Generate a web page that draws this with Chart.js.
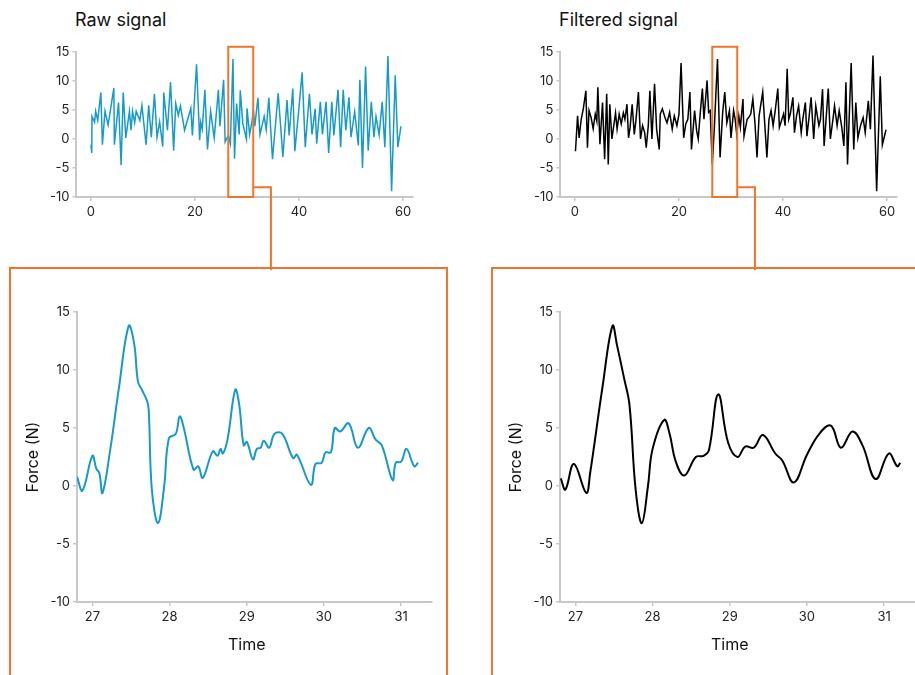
<!DOCTYPE html>
<html>
<head>
<meta charset="utf-8">
<script src="https://cdn.jsdelivr.net/npm/chart.js@4.4.1/dist/chart.umd.min.js"></script>
<style>
  body { margin: 0; background: #fff; font-family: Inter, "Noto Sans", sans-serif; }
  #wrap { position: relative; width: 915px; height: 675px; overflow: hidden; }
  .box { position: absolute; border: 2px solid #f07528; box-sizing: border-box; }
  .ttl { position: absolute; font-size: 18px; line-height: 22px; color: #111; }
  canvas { position: absolute; }
</style>
</head>
<body>
<div id="wrap">
  <div class="box" style="left:9px;top:267px;width:439px;height:450px"></div>
  <div class="box" style="left:491px;top:267px;width:500px;height:450px"></div>
  <div class="ttl" style="left:75px;top:9px">Raw signal</div>
  <div class="ttl" style="left:559px;top:9px">Filtered signal</div>
  <canvas id="rawTop" width="457" height="270" style="left:0;top:0"></canvas>
  <canvas id="filtTop" width="431" height="270" style="left:484px;top:0"></canvas>
  <canvas id="rawZoom" width="457" height="405" style="left:0;top:270px"></canvas>
  <canvas id="filtZoom" width="431" height="405" style="left:484px;top:270px"></canvas>
</div>
<script>
// overview, raw
const rawTopT = [0.0, 0.15, 0.2, 0.7, 0.9, 1.3, 1.9, 2.2, 2.7, 3.3,
  4.4, 4.5, 5.3, 5.8, 6.2, 6.7, 7.4, 7.7, 8.0, 8.4,
  8.7, 9.4, 9.8, 10.6, 11.1, 11.6, 12.2, 12.7, 13.2, 13.8,
  14.0, 14.7, 15.3, 15.9, 16.3, 16.8, 17.2, 18.0, 19.2, 19.5,
  20.3, 20.9, 21.1, 21.4, 21.9, 22.4, 23.0, 23.7, 24.5, 24.8,
  25.5, 25.8, 26.4, 26.8, 27.3, 27.6, 28.0, 28.5, 28.7, 29.2,
  29.9, 30.0, 30.5, 31.0, 31.2, 31.5, 32.1, 32.5, 33.3, 33.7,
  34.2, 34.9, 36.0, 36.9, 37.7, 38.1, 38.8, 39.2, 40.0, 40.6,
  41.2, 42.0, 42.5, 43.1, 43.4, 44.1, 44.5, 45.2, 45.7, 46.3,
  46.7, 47.5, 48.0, 48.5, 49.0, 49.6, 50.0, 50.7, 51.4, 51.7,
  52.2, 52.8, 53.3, 53.9, 54.4, 54.8, 55.4, 56.0, 56.5, 57.1,
  57.8, 58.5, 59.0, 59.6];
const rawTopF = [-1.0, -2.4, 3.9, 2.9, 4.8, 3.2, 8.0, -1.0, 4.8, 2.4,
  8.8, -1.0, 6.3, -4.5, 8.0, 0.2, 4.8, 1.5, 4.8, 2.8,
  4.8, 3.2, 5.8, -1.0, 5.8, 0.3, 7.8, 0.3, 3.0, -1.3,
  8.0, 1.5, 9.8, -2.0, 6.1, 4.1, 5.7, 1.5, 5.3, 0.6,
  12.9, -0.2, 2.9, 1.7, 8.5, -1.8, 4.8, 0.2, 8.5, 2.2,
  10.2, -0.5, 0.6, -0.8, 13.8, -3.4, 6.1, 0.8, 8.4, 2.6,
  0.0, 5.3, 0.8, 3.2, 5.2, 2.2, 7.1, 0.8, 3.9, 1.6,
  7.1, -3.5, 7.9, -3.1, 6.7, 0.6, 8.7, -2.1, 5.5, 11.5,
  -1.4, 7.8, 0.8, 5.2, -0.8, 6.4, 0.8, 6.4, -2.4, 6.4,
  0.6, 8.5, -1.4, 8.5, 1.5, 7.2, 0.3, 4.7, -1.1, 10.2,
  -5.0, 12.5, -2.0, 6.4, 0.3, 3.9, 0.7, 6.4, -1.4, 14.3,
  -9.0, 11.0, -1.4, 2.2];

// overview, filtered
const filtTopT = [0.1, 0.5, 0.8, 1.2, 1.6, 2.1, 2.4, 2.7, 3.1, 3.5,
  3.9, 4.2, 4.4, 4.8, 5.3, 5.7, 6.1, 6.4, 6.7, 7.1,
  7.8, 8.1, 8.5, 8.9, 9.3, 9.6, 10.0, 10.3, 10.6, 11.0,
  11.4, 11.7, 12.2, 12.6, 13.0, 13.4, 13.7, 14.1, 14.4, 14.8,
  15.1, 15.3, 15.7, 16.2, 16.4, 16.8, 17.3, 17.7, 18.2, 18.7,
  19.1, 19.6, 20.0, 20.4, 20.9, 21.3, 21.7, 22.1, 22.4, 23.0,
  23.4, 23.7, 24.1, 24.5, 24.8, 25.4, 25.7, 26.0, 26.4, 26.8,
  27.4, 27.9, 28.4, 28.8, 29.2, 29.7, 30.0, 30.5, 30.8, 31.1,
  31.5, 31.8, 32.3, 32.5, 33.1, 33.4, 33.8, 34.2, 34.6, 35.0,
  35.4, 36.1, 36.9, 37.3, 37.7, 38.1, 38.5, 39.0, 39.3, 40.1,
  40.4, 40.8, 41.1, 41.4, 41.9, 42.2, 42.6, 43.0, 43.5, 43.8,
  44.3, 44.6, 45.0, 45.4, 45.9, 46.3, 46.9, 47.2, 47.6, 47.9,
  48.3, 48.7, 49.1, 49.6, 49.9, 50.4, 50.8, 51.3, 51.7, 52.1,
  52.4, 53.1, 53.6, 54.0, 54.4, 54.9, 55.4, 55.8, 56.4, 56.8,
  57.3, 58.0, 58.7, 59.1, 59.8];
const filtTopF = [-2.1, 4.0, 0.2, 3.4, 5.2, 8.3, -1.5, 4.9, 3.7, 1.8,
  4.3, 3.1, 8.9, -0.9, 6.3, -3.5, 7.8, -4.4, 6.0, 0.0,
  4.5, 1.7, 4.3, 2.6, 4.5, 3.4, 6.0, 0.2, 2.0, 6.0,
  0.8, 3.0, 8.1, 0.0, 2.3, 1.1, -1.5, 2.3, 8.3, 0.0,
  5.7, 9.5, 1.7, -1.8, 4.3, 5.2, 3.7, 2.8, 4.6, 1.7,
  4.0, 2.3, 4.3, 13.1, 0.2, 2.6, 3.4, 8.1, -1.8, 4.9,
  1.4, 0.0, 4.6, 8.7, 3.4, 10.1, 4.6, 4.9, -4.4, 2.0,
  13.8, -3.2, 4.6, 8.1, 2.8, 4.9, 0.2, 4.9, 3.4, 0.8,
  4.0, 2.0, 6.9, 0.5, 3.4, 3.7, 4.3, 6.9, 2.8, -3.2,
  4.0, 8.1, -3.2, 3.4, 4.9, 2.3, 4.9, 8.7, 2.0, 4.3,
  2.3, 12.1, 3.4, 4.3, 7.2, 1.1, 4.0, 5.7, 1.1, 3.4,
  6.3, 0.5, 3.7, 7.2, 0.0, 5.7, 2.3, 3.4, 8.6, -1.2,
  3.7, 8.7, 0.0, 3.4, 5.7, 2.3, 4.9, 2.0, -1.2, 9.8,
  -4.4, 13.1, -1.8, 6.3, 0.2, 2.3, 3.7, 1.1, 6.6, 1.7,
  14.4, -9.0, 10.8, -1.0, 1.6];

// detail window, raw
const rawZoomT = [26.8, 26.87, 27.0, 27.05, 27.09, 27.13, 27.23, 27.34, 27.47, 27.54,
  27.59, 27.64, 27.71, 27.73, 27.77, 27.85, 27.93, 27.99, 28.08, 28.13,
  28.18, 28.31, 28.37, 28.43, 28.56, 28.62, 28.66, 28.69, 28.75, 28.85,
  28.9, 28.96, 29.0, 29.08, 29.13, 29.18, 29.22, 29.29, 29.36, 29.46,
  29.6, 29.65, 29.83, 29.89, 29.97, 30.02, 30.09, 30.14, 30.21, 30.32,
  30.44, 30.58, 30.67, 30.75, 30.89, 30.93, 31.0, 31.07, 31.17, 31.22];
const rawZoomF = [0.8, -0.4, 2.6, 1.5, 1.1, -0.6, 3.1, 8.3, 13.8, 12.3,
  9.0, 8.3, 7.3, 6.5, -0.3, -3.2, 0.0, 4.1, 4.5, 6.0,
  5.1, 1.4, 1.7, 0.7, 3.0, 2.6, 3.2, 2.8, 4.0, 8.3,
  7.1, 3.5, 3.8, 2.3, 3.2, 3.3, 3.9, 3.3, 4.5, 4.5,
  2.4, 2.7, 0.1, 1.9, 2.0, 2.9, 2.9, 5.0, 4.7, 5.4,
  3.3, 5.0, 4.0, 3.5, 0.5, 2.0, 2.1, 3.2, 1.7, 2.0];

// detail window, filtered
const filtZoomT = [26.81, 26.87, 26.98, 27.14, 27.19, 27.35, 27.48, 27.54, 27.63, 27.70,
  27.78, 27.86, 27.94, 28.0, 28.15, 28.22, 28.30, 28.41, 28.56, 28.66,
  28.73, 28.85, 28.98, 29.10, 29.20, 29.31, 29.43, 29.59, 29.68, 29.83,
  30.0, 30.16, 30.31, 30.44, 30.59, 30.72, 30.89, 31.06, 31.17, 31.21];
const filtZoomF = [0.66, -0.3, 1.9, -0.6, 1.1, 8.5, 13.8, 12.1, 9.3, 7.0,
  -0.3, -3.2, 0.0, 3.2, 5.7, 4.5, 2.1, 0.9, 2.5, 2.6,
  3.1, 7.9, 3.7, 2.5, 3.4, 3.3, 4.4, 2.8, 2.2, 0.3,
  2.7, 4.5, 5.2, 3.3, 4.7, 3.5, 0.6, 2.8, 1.7, 2.0];

const topXTicks = [0, 20, 40, 60];
const zoomXTicks = [27, 28, 29, 30, 31];
const yTicks = [-10, -5, 0, 5, 10, 15];

// highlighted window on the overview (x from/to, top of box) and the leader line
const windowFrom = 26.4, windowTo = 31.2, windowTop = 15.9;
const leaderLevel = -8.3, leaderX = 34.6;

const BLUE = '#189ac8';
const BLACK = '#000000';
const ORANGE = '#f07528';
const AXIS = '#c8c8c8';
const FONT = 'Inter, "Noto Sans", sans-serif';

const pairs = (xs, ys) => xs.map((x, i) => ({ x, y: ys[i] }));

const zoomBox = {
    id: 'zoomBox',
    afterDatasetsDraw(chart) {
        const { ctx, scales: { x, y } } = chart;
        const l = x.getPixelForValue(windowFrom);
        const r = x.getPixelForValue(windowTo);
        const t = y.getPixelForValue(windowTop);
        const b = y.getPixelForValue(-10);
        const ly = y.getPixelForValue(leaderLevel);
        const lx = x.getPixelForValue(leaderX);
        ctx.save();
        ctx.strokeStyle = ORANGE;
        ctx.lineWidth = 2;
        ctx.strokeRect(l, t, r - l, b - t);
        ctx.beginPath();
        ctx.moveTo(r, ly);
        ctx.lineTo(lx, ly);
        ctx.lineTo(lx, chart.height);
        ctx.stroke();
        ctx.restore();
    },
};

// x axis title centred over the tick range, as in the reference
const timeTitle = {
    id: 'timeTitle',
    afterDraw(chart) {
        const x = chart.scales.x;
        const mid = (zoomXTicks[0] + zoomXTicks[zoomXTicks.length - 1]) / 2;
        const ctx = chart.ctx;
        ctx.save();
        ctx.fillStyle = '#111';
        ctx.font = '16px ' + FONT;
        ctx.textAlign = 'center';
        ctx.textBaseline = 'middle';
        ctx.fillText('Time', x.getPixelForValue(mid), chart.chartArea.bottom + 43);
        ctx.restore();
    },
};

function axis(ticks, size, horizontal) {
    return {
        type: 'linear',
        grid: { drawOnChartArea: false, drawTicks: true, tickLength: 4, color: AXIS, lineWidth: 1.5 },
        border: { display: true, color: AXIS, width: 2 },
        ticks: { color: '#222', font: { family: FONT, size: 13 }, padding: 3, autoSkip: false, maxRotation: 0 },
        afterBuildTicks: (s) => { s.ticks = ticks.map((v) => ({ value: v })); },
        afterFit: (s) => {
            if (horizontal) s.height = size; else s.width = size;
        },
    };
}

function makeChart(id, data, color, opts) {
    const x = axis(opts.xTicks, opts.xh, true);
    x.min = opts.xMin;
    x.max = opts.xMax;
    const y = axis(yTicks, opts.yw, false);
    y.min = -10;
    y.max = 15;
    if (opts.yTitle) {
        y.title = { display: true, text: opts.yTitle, color: '#111', font: { family: FONT, size: 16 }, padding: { top: 4, bottom: 4 } };
    }
    return new Chart(document.getElementById(id), {
        type: 'line',
        data: {
            datasets: [{
                data,
                borderColor: color,
                borderWidth: opts.lw,
                pointRadius: 0,
                tension: opts.tension,
                fill: false,
            }],
        },
        options: {
            responsive: false,
            animation: false,
            layout: { padding: opts.pad },
            plugins: { legend: { display: false }, tooltip: { enabled: false } },
            scales: { x, y },
        },
        plugins: opts.plugins,
    });
}

makeChart('rawTop', pairs(rawTopT, rawTopF), BLUE, {
    xMin: -2.8, xMax: 61.8, xTicks: topXTicks, xh: 30, yw: 36, lw: 1.5, tension: 0,
    pad: { left: 40.4, right: 44.6, top: 52, bottom: 43 }, plugins: [zoomBox],
});
makeChart('filtTop', pairs(filtTopT, filtTopF), BLACK, {
    xMin: -2.8, xMax: 61.8, xTicks: topXTicks, xh: 30, yw: 36, lw: 1.5, tension: 0,
    pad: { left: 40.4, right: 18.6, top: 52, bottom: 43 }, plugins: [zoomBox],
});
makeChart('rawZoom', pairs(rawZoomT, rawZoomF), BLUE, {
    xMin: 26.8, xMax: 31.4, xTicks: zoomXTicks, xh: 55, yw: 57, lw: 2, tension: 0.4, yTitle: 'Force (N)',
    pad: { left: 20, right: 25, top: 42, bottom: 18 }, plugins: [timeTitle],
});
makeChart('filtZoom', pairs(filtZoomT, filtZoomF), BLACK, {
    xMin: 26.8, xMax: 31.4, xTicks: zoomXTicks, xh: 55, yw: 57, lw: 2, tension: 0.4, yTitle: 'Force (N)',
    pad: { left: 19, right: 0, top: 42, bottom: 18 }, plugins: [timeTitle],
});
</script>
</body>
</html>
